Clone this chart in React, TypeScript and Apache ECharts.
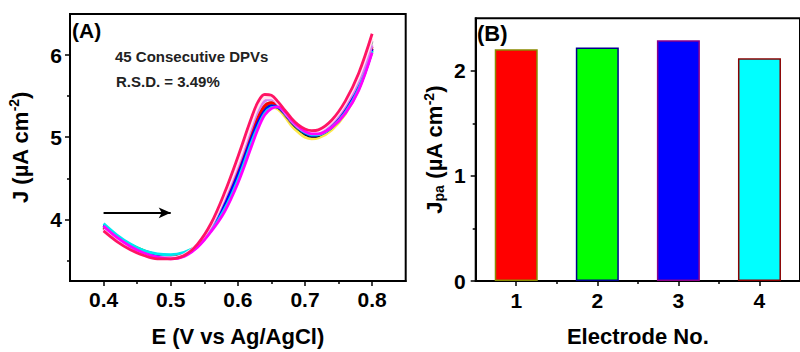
import React, { useEffect, useRef } from 'react';
import * as echarts from 'echarts';

// ---------- Panel A data: 45 consecutive DPVs (representative curves) ----------
const potentials = [0.40, 0.42, 0.44, 0.46, 0.48, 0.50, 0.52, 0.54, 0.56, 0.58, 0.60, 0.62, 0.63, 0.64, 0.65, 0.66, 0.67, 0.68, 0.69, 0.70, 0.71, 0.72, 0.74, 0.76, 0.78, 0.80];

const curveYellow = [3.91, 3.78, 3.68, 3.61, 3.57, 3.56, 3.59, 3.68, 3.87, 4.15, 4.52, 4.96, 5.15, 5.30, 5.36, 5.34, 5.25, 5.14, 5.06, 5.00, 4.98, 4.99, 5.09, 5.28, 5.58, 6.06];
const curveBlack = [3.90, 3.77, 3.67, 3.60, 3.56, 3.55, 3.58, 3.68, 3.88, 4.18, 4.55, 4.99, 5.18, 5.33, 5.38, 5.36, 5.28, 5.18, 5.10, 5.04, 5.01, 5.02, 5.12, 5.31, 5.61, 6.08];
const curveGreen = [3.92, 3.79, 3.69, 3.62, 3.57, 3.56, 3.59, 3.68, 3.87, 4.17, 4.54, 4.98, 5.18, 5.33, 5.39, 5.37, 5.29, 5.19, 5.10, 5.05, 5.02, 5.03, 5.12, 5.30, 5.59, 6.05];
const curveGray = [3.90, 3.77, 3.67, 3.60, 3.56, 3.55, 3.58, 3.69, 3.90, 4.22, 4.61, 5.06, 5.26, 5.39, 5.42, 5.37, 5.28, 5.18, 5.11, 5.06, 5.04, 5.05, 5.16, 5.37, 5.68, 6.17];
const curveRed = [3.89, 3.76, 3.66, 3.59, 3.55, 3.54, 3.57, 3.68, 3.89, 4.21, 4.59, 5.04, 5.24, 5.38, 5.42, 5.38, 5.29, 5.19, 5.11, 5.06, 5.04, 5.05, 5.15, 5.34, 5.64, 6.10];
const curveBlue = [3.93, 3.79, 3.68, 3.60, 3.55, 3.53, 3.56, 3.67, 3.87, 4.17, 4.54, 4.98, 5.18, 5.32, 5.38, 5.37, 5.29, 5.19, 5.11, 5.05, 5.02, 5.03, 5.13, 5.32, 5.62, 6.07];
const curveCyan = [3.95, 3.81, 3.70, 3.62, 3.58, 3.57, 3.60, 3.68, 3.86, 4.12, 4.48, 4.93, 5.13, 5.29, 5.36, 5.37, 5.30, 5.20, 5.12, 5.06, 5.03, 5.03, 5.12, 5.30, 5.59, 6.05];
const curveViolet = [3.88, 3.75, 3.65, 3.58, 3.54, 3.53, 3.57, 3.69, 3.91, 4.25, 4.65, 5.11, 5.32, 5.44, 5.46, 5.40, 5.30, 5.20, 5.12, 5.07, 5.05, 5.06, 5.17, 5.38, 5.68, 6.12];
const curveLightPink = [3.87, 3.74, 3.64, 3.57, 3.53, 3.53, 3.57, 3.70, 3.93, 4.28, 4.69, 5.16, 5.37, 5.48, 5.48, 5.41, 5.31, 5.21, 5.13, 5.08, 5.06, 5.07, 5.19, 5.41, 5.73, 6.20];
const curveMagenta = [3.92, 3.78, 3.67, 3.59, 3.54, 3.52, 3.55, 3.66, 3.85, 4.09, 4.44, 4.88, 5.10, 5.27, 5.35, 5.37, 5.31, 5.21, 5.13, 5.07, 5.04, 5.04, 5.12, 5.29, 5.57, 6.03];
const curvePinkRed = [3.86, 3.73, 3.63, 3.56, 3.52, 3.52, 3.56, 3.70, 3.95, 4.32, 4.76, 5.23, 5.43, 5.52, 5.51, 5.43, 5.33, 5.23, 5.15, 5.10, 5.08, 5.09, 5.21, 5.44, 5.78, 6.26];

const curves = [curveYellow, curveBlack, curveGreen, curveGray, curveRed, curveBlue, curveCyan, curveViolet, curveLightPink, curveMagenta, curvePinkRed];
const curveColors = ['#ffe84a', '#000000', '#00c000', '#a0a0a0', '#ff0000', '#0000ff', '#00e8f0', '#d87cf0', '#ffe4f0', '#ff00ff', '#ff1464'];

const arrowStart = [0.4, 4.08];
const arrowEnd = [0.5, 4.08];

const xTicksA = [0.4, 0.5, 0.6, 0.7, 0.8];
const xMinorA = [0.45, 0.55, 0.65, 0.75];
const yTicksA = [4, 5, 6];
const yMinorA = [3.5, 4.5, 5.5];

// ---------- Panel B data ----------
const electrodes = [1, 2, 3, 4];
const peakCurrents = [2.206, 2.222, 2.29, 2.12];
const barColors = ['#ff0000', '#00ff00', '#0000ff', '#00ffff'];
const barBorders = ['#8a8a00', '#00008b', '#8b008b', '#8b0000'];
const xMinorB = [1.5, 2.5, 3.5];
const yTicksB = [0, 1, 2];
const yMinorB = [0.5, 1.5];

const FONT = 'Liberation Sans, Arial, sans-serif';

const tickLabel = { fontSize: 21, fontWeight: 'bold' as const, color: '#000', fontFamily: FONT };
const nameStyle = { fontSize: 22, fontWeight: 'bold' as const, color: '#000', fontFamily: FONT };
const axisLineStyle = { show: true, onZero: false, lineStyle: { color: '#000', width: 2 } };

function minorAxis(gridIndex: number, min: number, max: number, values: number[], pos: string) {
  return {
    gridIndex,
    type: 'value',
    min,
    max,
    position: pos,
    axisLine: { show: false, onZero: false },
    axisTick: { show: true, length: 3, lineStyle: { color: '#000', width: 1.5 }, customValues: values },
    axisLabel: { show: false },
    splitLine: { show: false },
  };
}

export default function App() {
  const ref = useRef<HTMLDivElement>(null);

  useEffect(() => {
    if (!ref.current) return;
    const chart = echarts.init(ref.current, undefined, { renderer: 'svg' });

    const lineSeries = curves.map((c, k) => ({
      type: 'line',
      xAxisIndex: 0,
      yAxisIndex: 0,
      data: potentials.map((e, i) => [e, c[i]]),
      smooth: 0.35,
      symbol: 'none',
      lineStyle: { color: curveColors[k], width: 2.8 },
      itemStyle: { color: curveColors[k] },
      z: 2 + k,
      ...(k === 0
        ? {
            markLine: {
              silent: true,
              symbol: ['none', 'arrow'],
              symbolSize: [8, 12],
              label: { show: false },
              lineStyle: { color: '#000', width: 2, type: 'solid' },
              data: [[{ coord: arrowStart }, { coord: arrowEnd }]],
            },
          }
        : {}),
    }));

    const option = {
      animation: false,
      grid: [
        { left: 70, top: 14, width: 335.7, height: 271.7, show: true, borderColor: '#000', borderWidth: 2, backgroundColor: 'transparent' },
        { left: 475.7, top: 18.3, width: 333.3, height: 270, show: true, borderColor: '#000', borderWidth: 2, backgroundColor: 'transparent' },
      ],
      xAxis: [
        {
          gridIndex: 0,
          type: 'value',
          min: 0.35,
          max: 0.85,
          position: 'bottom',
          axisLine: axisLineStyle,
          axisTick: { show: true, length: 5, lineStyle: { color: '#000', width: 1.5 }, customValues: xTicksA },
          axisLabel: { ...tickLabel, margin: 8, customValues: xTicksA, formatter: (v: number) => v.toFixed(1) },
          splitLine: { show: false },
          name: 'E (V vs Ag/AgCl)',
          nameLocation: 'middle',
          nameGap: 44,
          nameTextStyle: nameStyle,
        },
        minorAxis(0, 0.35, 0.85, xMinorA, 'bottom'),
        {
          gridIndex: 1,
          type: 'value',
          min: 0.5,
          max: 4.5,
          position: 'bottom',
          axisLine: axisLineStyle,
          axisTick: { show: true, length: 5, lineStyle: { color: '#000', width: 1.5 }, customValues: electrodes },
          axisLabel: { ...tickLabel, margin: 9, customValues: electrodes, formatter: (v: number) => String(v) },
          splitLine: { show: false },
          name: 'Electrode No.',
          nameLocation: 'middle',
          nameGap: 44,
          nameTextStyle: nameStyle,
        },
        minorAxis(1, 0.5, 4.5, xMinorB, 'bottom'),
      ],
      yAxis: [
        {
          gridIndex: 0,
          type: 'value',
          min: 3.25,
          max: 6.5,
          position: 'left',
          axisLine: axisLineStyle,
          axisTick: { show: true, length: 5, lineStyle: { color: '#000', width: 1.5 }, customValues: yTicksA },
          axisLabel: { ...tickLabel, margin: 8, customValues: yTicksA, formatter: (v: number) => String(v) },
          splitLine: { show: false },
          name: '{a|J (µA cm}{sup|-2}{a|)}',
          nameLocation: 'middle',
          nameGap: 37,
          nameTextStyle: {
            ...nameStyle,
            rich: {
              a: { ...nameStyle },
              sup: { ...nameStyle, fontSize: 14, padding: [0, 0, 12, 0] },
            },
          },
        },
        minorAxis(0, 3.25, 6.5, yMinorA, 'left'),
        {
          gridIndex: 1,
          type: 'value',
          min: 0,
          max: 2.5,
          position: 'left',
          axisLine: axisLineStyle,
          axisTick: { show: true, length: 5, lineStyle: { color: '#000', width: 1.5 }, customValues: yTicksB },
          axisLabel: { ...tickLabel, margin: 10, customValues: yTicksB, formatter: (v: number) => String(v) },
          splitLine: { show: false },
          name: '{a|J}{sub|pa}{a| (µA cm}{sup|-2}{a|)}',
          nameLocation: 'middle',
          nameGap: 28,
          nameTextStyle: {
            ...nameStyle,
            rich: {
              a: { ...nameStyle },
              sup: { ...nameStyle, fontSize: 14, padding: [0, 0, 12, 0] },
              sub: { ...nameStyle, fontSize: 14, padding: [8, 0, 0, 0] },
            },
          },
        },
        minorAxis(1, 0, 2.5, yMinorB, 'left'),
      ],
      series: [
        ...lineSeries,
        {
          type: 'bar',
          xAxisIndex: 2,
          yAxisIndex: 2,
          barWidth: 43,
          data: electrodes.map((e, i) => ({
            value: [e, peakCurrents[i]],
            itemStyle: { color: barColors[i], borderColor: barBorders[i], borderWidth: 1.5 },
          })),
        },
      ],
      graphic: [
        { type: 'text', left: 72, top: 20, style: { text: '(A)', font: `bold 21px ${FONT}`, fill: '#000' } },
        { type: 'text', left: 115, top: 49, style: { text: '45 Consecutive DPVs', font: `bold 15px ${FONT}`, fill: '#222' } },
        { type: 'text', left: 116, top: 74, style: { text: 'R.S.D. = 3.49%', font: `bold 15px ${FONT}`, fill: '#222' } },
        { type: 'text', left: 477, top: 22, style: { text: '(B)', font: `bold 22px ${FONT}`, fill: '#000' } },
      ],
    };

    chart.setOption(option as any);
    return () => chart.dispose();
  }, []);

  return <div ref={ref} style={{ position: 'fixed', left: 0, top: 0, width: 800, height: 352, background: '#fff' }} />;
}
